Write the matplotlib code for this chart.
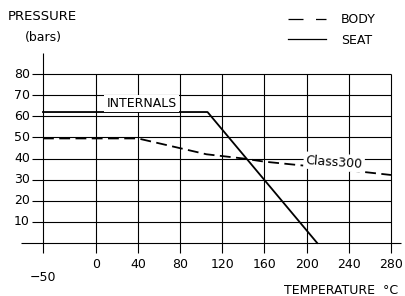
import matplotlib
matplotlib.use("Agg")
import matplotlib.pyplot as plt
from matplotlib.lines import Line2D

# data
temp_ticks = [-50, 0, 40, 80, 120, 160, 200, 240, 280]
pres_ticks = [10, 20, 30, 40, 50, 60, 70, 80]

seat_t = [-50, 106, 210]
seat_p = [62, 62, 0]

body_t = [-50, 40, 105, 140, 160, 220, 280]
body_p = [49.5, 49.5, 42, 40, 38.5, 35.5, 32.2]

W, H = 405, 296
fig = plt.figure(figsize=(W / 100, H / 100), dpi=100)
ax = fig.add_axes([0, 0, 1, 1])
ax.set_axis_off()

# pixel anchors: T=-50 -> x43, T=280 -> x391 ; P=0 -> y243, P=80 -> y74
sx = (391 - 43) / 330
sy = (243 - 74) / 80
ax.set_xlim(-50 - 43 / sx, -50 + (W - 43) / sx)
ax.set_ylim(-(H - 243) / sy, 243 / sy)

fs = 9
grid_kw = dict(color="black", lw=0.8, zorder=1)

# grid
ax.hlines(pres_ticks, -60, 280, **grid_kw)
ax.hlines(0, -70.5, 289.5, **grid_kw)
ax.vlines(temp_ticks[1:], -4.7, 80, **grid_kw)
ax.vlines(temp_ticks[0], -4.7, 90, **grid_kw)

# curves
ax.plot(body_t, body_p, color="black", lw=1.3, dashes=(6, 3), zorder=3)
ax.plot(seat_t, seat_p, color="black", lw=1.3, zorder=3)

# tick labels
for p in pres_ticks:
    ax.text(-62.5, p, str(p), ha="right", va="center", fontsize=fs)
for t in temp_ticks:
    y = -16.1 if t == -50 else -10.4
    ax.text(t, y, str(t).replace("-", "\u2212"), ha="center", va="center",
            fontsize=fs)

# annotations
box = dict(facecolor="white", edgecolor="none", pad=1.5)
ax.text(43.5, 66.1, "INTERNALS", ha="center", va="center", fontsize=fs,
        bbox=box, zorder=5)
ax.text(226, 38.3, "Class300", ha="center", va="center", fontsize=fs,
        rotation=-4, bbox=box, zorder=5)

# axis titles
fig.text(8 / W, 1 - 17 / H, "PRESSURE", ha="left", va="center", fontsize=9.5)
fig.text(43.5 / W, 1 - 37 / H, "(bars)", ha="center", va="center", fontsize=fs)
fig.text(398 / W, 1 - 290 / H, "TEMPERATURE  \u00b0C", ha="right",
         va="center", fontsize=fs)

# legend
handles = [
    Line2D([], [], color="black", lw=0.9, dashes=(12, 10)),
    Line2D([], [], color="black", lw=0.9),
]
ax.legend(handles, ["BODY", "SEAT"], loc="upper left",
          bbox_to_anchor=(277 / W, 1 - 2 / H), frameon=False, fontsize=fs,
          handlelength=3.0, handletextpad=1.2, labelspacing=0.6)

fig.savefig("out.png", dpi=100)
